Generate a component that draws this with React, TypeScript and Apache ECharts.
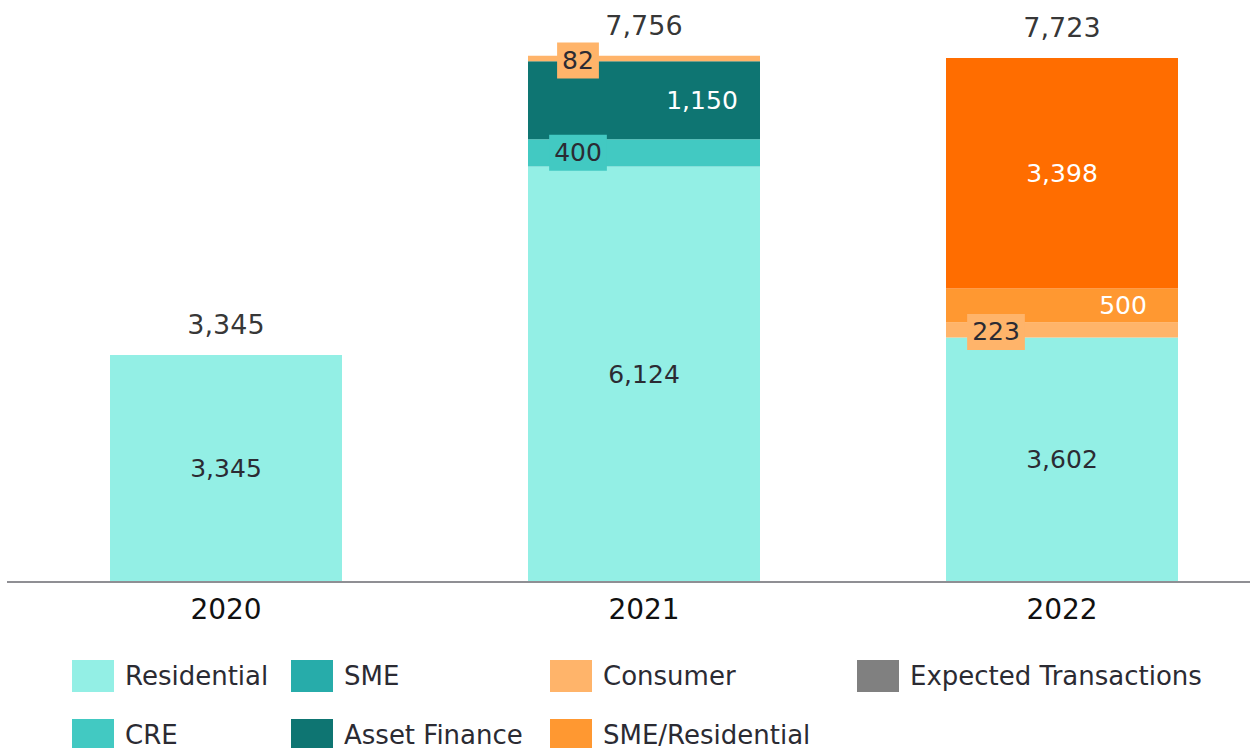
import React, { useEffect, useRef } from "react";
import * as echarts from "echarts";

const years = ["2020", "2021", "2022"];
const residential = [3345, 6124, 3602];
const cre = [null, 400, null];
const sme = [null, null, null];
const assetFinance = [null, 1150, null];
const consumer = [null, 82, 223];
const smeResidential = [null, null, 500];
const otherOrange = [null, null, 3398];
const expected = [null, null, null];
const totals = [3345, 7756, 7723];

const FONT = "DejaVu Sans";
const DARK = "#2b2b33";

const fmt = (p: any) => Number(p.value).toLocaleString("en-US");

export default function App() {
  const ref = useRef<HTMLDivElement>(null);
  useEffect(() => {
    document.body.style.margin = "0";
    const chart = echarts.init(ref.current!, null, { renderer: "svg" });
    const baseLabel = {
      show: true,
      position: "inside",
      fontFamily: FONT,
      fontSize: 25,
      color: DARK,
      formatter: fmt,
    };
    const bar = (name: string, data: any[], color: string, label: any) => ({
      name,
      type: "bar",
      stack: "t",
      barWidth: 232,
      data,
      itemStyle: { color },
      label: { ...baseLabel, ...label },
    });
    const legendItem = (name: string, left: number, top: number) => ({
      data: [name],
      left,
      top,
      padding: 0,
      itemWidth: 42,
      itemHeight: 32,
      icon: "rect",
      textStyle: { fontFamily: FONT, fontSize: 26, color: DARK, padding: [0, 0, 0, 6] },
    });
    chart.setOption({
      animation: false,
      grid: { left: 17, width: 1254, top: 0, bottom: 166 },
      xAxis: {
        type: "category",
        data: years,
        axisLine: { show: false },
        axisTick: { show: false },
        axisLabel: { fontFamily: FONT, fontSize: 28, color: "#111", margin: 13 },
      },
      yAxis: { type: "value", min: 0, max: 8576, show: false, splitLine: { show: false } },
      legend: [
        legendItem("Residential", 72, 660),
        legendItem("SME", 291, 660),
        legendItem("Consumer", 550, 660),
        legendItem("Expected Transactions", 857, 660),
        legendItem("CRE", 72, 719),
        legendItem("Asset Finance", 291, 719),
        legendItem("SME/Residential", 550, 719),
      ],
      graphic: [
        {
          type: "line",
          shape: { x1: 7, y1: 582, x2: 1250, y2: 582 },
          style: { stroke: "#8f8f94", lineWidth: 2 },
          z: 100,
        },
      ],
      series: [
        bar("Residential", residential, "#93EFE5", {}),
        bar("CRE", cre, "#42C9C2", {
          offset: [-66, 0],
          backgroundColor: "#42C9C2",
          padding: [3, 5],
          lineHeight: 30,
        }),
        bar("SME", sme, "#27ACAA", {}),
        bar("Asset Finance", assetFinance, "#0E7572", { color: "#ffffff", offset: [58, 0] }),
        bar("Consumer", consumer, "#FFB46A", {
          offset: [-66, 2],
          backgroundColor: "#FFB46A",
          padding: [3, 5],
          lineHeight: 30,
        }),
        bar("SME/Residential", smeResidential, "#FF9831", { color: "#ffffff", offset: [61, 0] }),
        bar("Other", otherOrange, "#FF6D00", { color: "#ffffff" }),
        bar("Expected Transactions", expected, "#808080", {}),
        {
          name: "Total",
          type: "scatter",
          data: totals,
          symbolSize: 0,
          z: 10,
          label: {
            show: true,
            position: "top",
            distance: 17,
            fontFamily: FONT,
            fontSize: 27,
            color: "#000",
            formatter: fmt,
          },
        },
      ],
    });
    return () => chart.dispose();
  }, []);
  return (
    <div style={{ width: 1250, height: 748, overflow: "hidden", position: "relative" }}>
      <div ref={ref} style={{ width: 1275, height: 748 }} />
    </div>
  );
}
